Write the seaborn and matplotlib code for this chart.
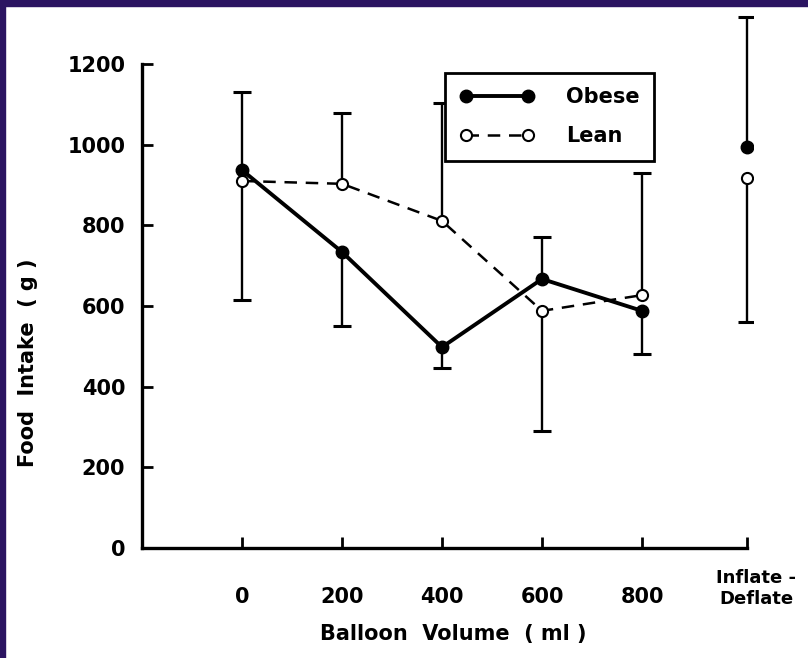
import pandas as pd
import matplotlib.pyplot as plt
from matplotlib.patches import Rectangle
from matplotlib.transforms import blended_transform_factory
import seaborn as sns

# Balloon volume conditions (ml)
volumes = [0, 200, 400, 600, 800]
volume_labels = ['0', '200', '400', '600', '800']
inflate_pos = 1010
inflate_label = 'Inflate -\nDeflate'

# Mean food intake (g)
obese_intake = [937, 734, 498, 667, 588]
lean_intake = [910, 903, 811, 588, 627]
obese_inflate = 994
lean_inflate = 917

# One-sided error bars (last entry = inflate-deflate)
obese_err_up = [194, 0, 0, 104, 0, 323]
obese_err_down = [0, 184, 52, 0, 107, 0]
lean_err_up = [0, 176, 292, 0, 303, 0]
lean_err_down = [295, 0, 0, 298, 0, 357]

y_ticks = [0, 200, 400, 600, 800, 1000, 1200]

sns.set_style('white')
plt.rcParams['font.family'] = ['DejaVu Sans']
plt.rcParams['text.color'] = 'black'
plt.rcParams['axes.labelcolor'] = 'black'

fig = plt.figure(figsize=(8.08, 6.58), dpi=100)
ax = fig.add_axes([142 / 808, 110 / 658, 611 / 808, 536.4 / 658])

df = pd.DataFrame({'volume': volumes, 'Obese': obese_intake, 'Lean': lean_intake})

# error bars first so the markers sit on top
def draw_err(xs, ys, ups, downs):
    for x, y, u, d in zip(xs, ys, ups, downs):
        for e in (u, -d):
            if e:
                ax.vlines(x, y, y + e, color='black', lw=1.7, zorder=2)
                ax.plot(x, y + e, marker='_', ms=13, mew=2.2, color='black', zorder=2)

all_x = volumes + [inflate_pos]
draw_err(all_x, obese_intake + [obese_inflate], obese_err_up, obese_err_down)
draw_err(all_x, lean_intake + [lean_inflate], lean_err_up, lean_err_down)

sns.lineplot(data=df, x='volume', y='Obese', ax=ax, color='black', lw=2.8,
             marker='o', ms=9, mfc='black', mec='black', mew=1, label='Obese', zorder=4)
sns.lineplot(data=df, x='volume', y='Lean', ax=ax, color='black', lw=1.8,
             linestyle=(0, (5, 3.5)), marker='o', ms=8, mfc='white', mec='black', mew=1.5,
             label='Lean', zorder=5)

# inflate-deflate condition, unconnected
ax.plot([inflate_pos], [obese_inflate], 'o', ms=9, mfc='black', mec='black', zorder=4)
ax.plot([inflate_pos], [lean_inflate], 'o', ms=8, mfc='white', mec='black', mew=1.5, zorder=5)

ax.set_xlim(-200, 1022)
ax.set_ylim(0, 1330)
for s in ['top', 'right']:
    ax.spines[s].set_visible(False)
for s in ['left', 'bottom']:
    ax.spines[s].set_linewidth(2.4)
    ax.spines[s].set_color('black')
ax.spines['left'].set_bounds(0, 1200)
ax.spines['bottom'].set_bounds(-200, inflate_pos)

ax.set_xticks(volumes + [inflate_pos])
ax.set_xticklabels(volume_labels + [''])
ax.set_yticks(y_ticks)
ax.set_yticklabels([str(v) for v in y_ticks])
ax.tick_params(axis='both', direction='in', length=8, width=2, color='black',
               labelsize=15, labelcolor='black', left=True, bottom=True)
ax.tick_params(axis='x', pad=28)
ax.tick_params(axis='y', pad=12)
for lab in ax.get_xticklabels() + ax.get_yticklabels():
    lab.set_fontweight('bold')

trans = blended_transform_factory(ax.transData, ax.transAxes)
ax.text(inflate_pos + 18, -0.075, inflate_label, transform=trans, ha='center', va='center',
        fontsize=13, fontweight='bold', linespacing=1.2)

ax.set_xlabel('Balloon  Volume  ( ml )', fontsize=15, fontweight='bold')
ax.set_ylabel('Food  Intake  ( g )', fontsize=15, fontweight='bold')
ax.xaxis.set_label_coords(0.509, -0.142)
ax.yaxis.set_label_coords(-0.17, 0.345)

leg = ax.legend(loc='upper left', bbox_to_anchor=(0.496, 0.886), borderaxespad=0,
                numpoints=2, handlelength=3.6, handletextpad=1.5, labelspacing=0.9,
                borderpad=0.7, fancybox=False, prop={'weight': 'bold', 'size': 15})
leg.get_frame().set_edgecolor('black')
leg.get_frame().set_linewidth(2)
leg.get_frame().set_alpha(1)

# dark border of the slide
border = '#2b1461'
fig.patches.append(Rectangle((0, 1 - 6 / 658), 1, 6 / 658, transform=fig.transFigure,
                             color=border, zorder=10))
fig.patches.append(Rectangle((0, 0), 5 / 808, 1, transform=fig.transFigure,
                             color=border, zorder=10))

fig.savefig('out.png', dpi=100, facecolor='white')
